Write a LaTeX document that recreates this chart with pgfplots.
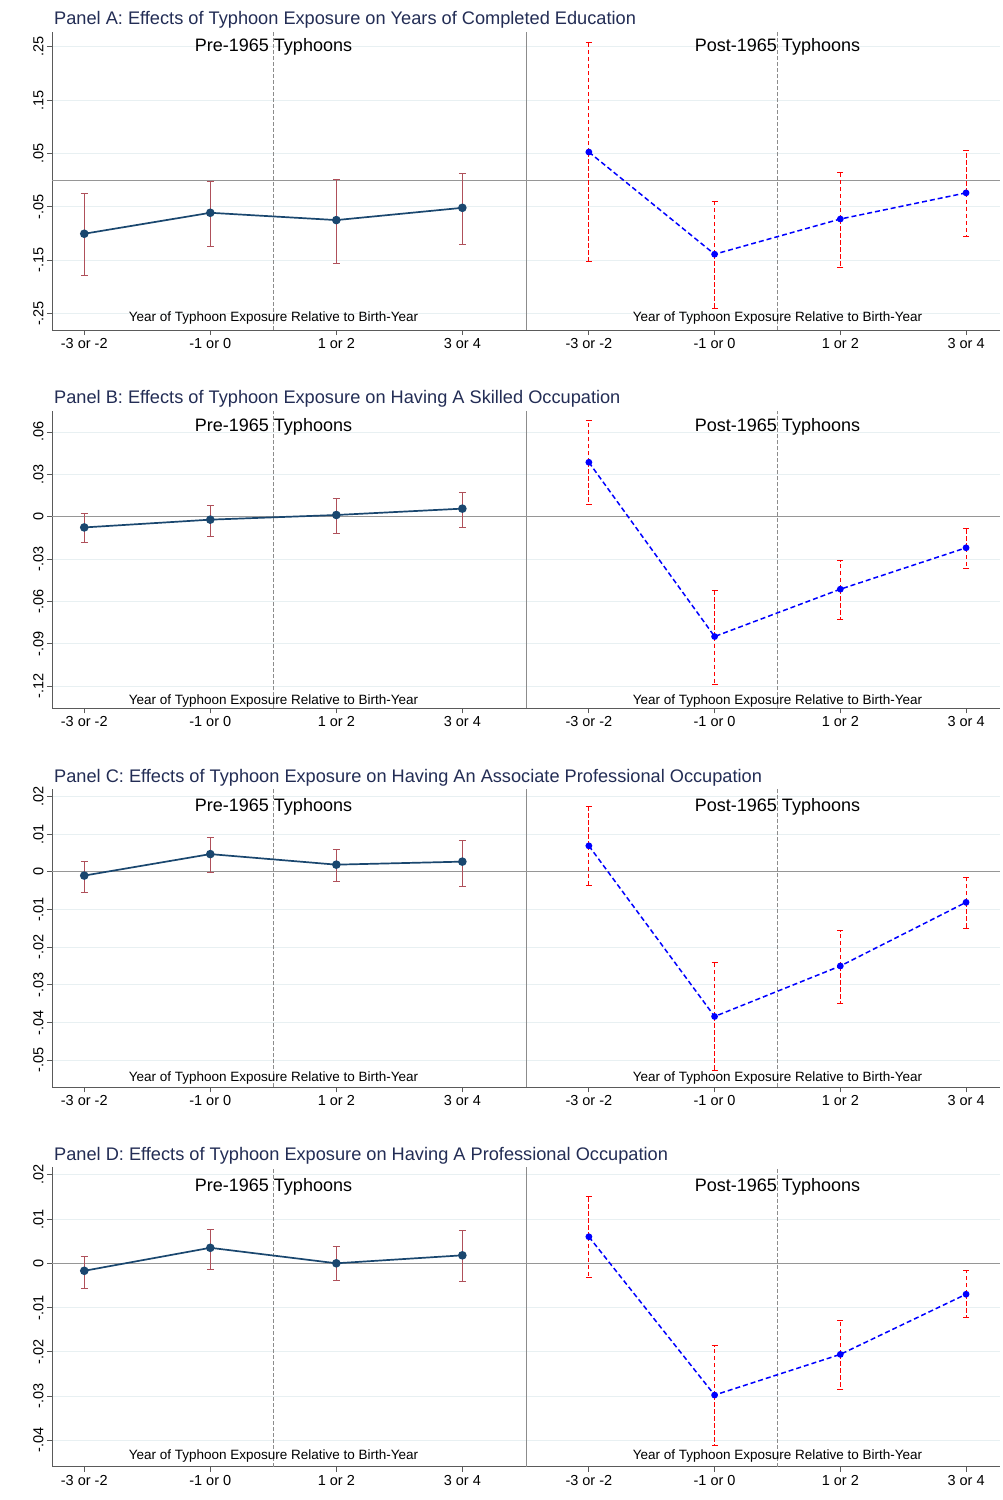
\documentclass[border=0pt]{standalone}
\usepackage{fontspec}
\setmainfont{Liberation Sans}
\usepackage{pgfplots}
\usepackage{pgfplotstable}
\pgfplotsset{compat=1.18}

\definecolor{navyline}{RGB}{26,71,111}
\definecolor{cierr}{RGB}{175,80,90}
\definecolor{gridc}{RGB}{232,240,242}
\definecolor{titlec}{RGB}{35,45,85}
\definecolor{spinec}{RGB}{90,90,90}
\definecolor{refgray}{RGB}{150,150,150}
\definecolor{dashgray}{RGB}{140,140,140}
\definecolor{spine2}{RGB}{140,140,140}

% x  y  lo  hi
\pgfplotstableread{
x y lo hi
1 -0.1006 -0.179 -0.025
2 -0.0613 -0.125 -0.002
3 -0.075 -0.156 0.001
4 -0.052 -0.121 0.012
}\Apre
\pgfplotstableread{
x y lo hi
1 0.0525 -0.152 0.257
2 -0.139 -0.241 -0.040
3 -0.073 -0.163 0.014
4 -0.024 -0.106 0.056
}\Apost
\pgfplotstableread{
x y lo hi
1 -0.0076 -0.0184 0.0021
2 -0.0021 -0.0142 0.0078
3 0.0012 -0.0116 0.0130
4 0.0057 -0.0076 0.0170
}\Bpre
\pgfplotstableread{
x y lo hi
1 0.0385 0.0085 0.068
2 -0.0848 -0.1186 -0.052
3 -0.0513 -0.0725 -0.0312
4 -0.022 -0.0364 -0.0087
}\Bpost
\pgfplotstableread{
x y lo hi
1 -0.0010 -0.0055 0.0027
2 0.0047 -0.0002 0.0091
3 0.0019 -0.0027 0.0060
4 0.0027 -0.0038 0.0083
}\Cpre
\pgfplotstableread{
x y lo hi
1 0.0069 -0.0036 0.0173
2 -0.0384 -0.0527 -0.0240
3 -0.0250 -0.0350 -0.0156
4 -0.0081 -0.0150 -0.0016
}\Cpost
\pgfplotstableread{
x y lo hi
1 -0.0017 -0.0057 0.0015
2 0.0035 -0.0015 0.0076
3 0.0000 -0.0039 0.0037
4 0.0018 -0.0042 0.0074
}\Dpre
\pgfplotstableread{
x y lo hi
1 0.0060 -0.0032 0.0151
2 -0.0298 -0.0411 -0.0187
3 -0.0206 -0.0286 -0.0129
4 -0.0070 -0.0122 -0.0017
}\Dpost

\pgfplotsset{
  panelbase/.style={
    scale only axis, width=474pt,
    axis x line*=bottom, axis y line*=left,
    axis line style={spinec, line width=0.9pt},
    xtick={1,2,3,4},
    xticklabels={-3 or -2,-1 or 0,1 or 2,3 or 4},
    scaled y ticks=false, scaled x ticks=false,
    tick align=outside, major tick length=5pt,
    tick style={spinec, line width=0.8pt},
    ymajorgrids, major grid style={gridc, line width=0.8pt},
    ticklabel style={font=\fontsize{14.5}{16}\selectfont, text=black},
    clip=false,
  },
}

% #1 bottom(px) #2 height #3 ymin #4 ymax #5 yticks #6 labels #7 pre #8 post
\newcommand{\panel}[8]{%
  \begin{axis}[panelbase, at={(52pt,-#1pt)}, anchor=south west, height=#2pt,
    xmin=0.744, xmax=4.505, ymin=#3, ymax=#4, ytick={#5}, yticklabels={#6},
    yticklabel style={rotate=90, anchor=south}]
    \draw[refgray, line width=0.8pt] (axis cs:0.744,0) -- (axis cs:4.505,0);
    \draw[dashgray, line width=0.8pt, dash pattern=on 4pt off 2pt] (axis cs:2.5,#3) -- (axis cs:2.5,#4);
    \addplot[only marks, mark=none,
      error bars/.cd, y dir=both, y explicit,
      error bar style={cierr, line width=1pt},
      error mark options={rotate=90, cierr, line width=1pt, mark size=3.5pt}]
      table[x=x, y=y, y error plus expr=\thisrow{hi}-\thisrow{y}, y error minus expr=\thisrow{y}-\thisrow{lo}] {#7};
    \addplot[navyline, line width=1.7pt, mark=*, mark size=3.4pt, mark options={fill=navyline, draw=navyline, solid}]
      table[x=x, y=y] {#7};
  \end{axis}
  \begin{axis}[panelbase, at={(526pt,-#1pt)}, anchor=south west, height=#2pt,
    xmin=0.5, xmax=4.27, ymin=#3, ymax=#4, ytick={#5}, yticklabels={},
    ytick style={draw=none}, y axis line style={spine2, line width=0.9pt}]
    \draw[refgray, line width=0.8pt] (axis cs:0.5,0) -- (axis cs:4.27,0);
    \draw[dashgray, line width=0.8pt, dash pattern=on 4pt off 2pt] (axis cs:2.5,#3) -- (axis cs:2.5,#4);
    \addplot[only marks, mark=none,
      error bars/.cd, y dir=both, y explicit,
      error bar style={red, line width=1pt, dash pattern=on 4.5pt off 2.5pt},
      error mark options={rotate=90, red, solid, line width=1pt, mark size=3pt}]
      table[x=x, y=y, y error plus expr=\thisrow{hi}-\thisrow{y}, y error minus expr=\thisrow{y}-\thisrow{lo}] {#8};
    \addplot[blue, line width=1.5pt, dash pattern=on 5pt off 3pt, mark=*, mark size=2.6pt, mark options={fill=blue, draw=blue, solid}]
      table[x=x, y=y] {#8};
  \end{axis}
}

\newcommand{\labels}[4]{% #1 title y, #2 title text, #3 subtitle y, #4 bottom text y
  \node[anchor=west, text=titlec, font=\fontsize{18.2}{20}\selectfont, inner sep=0pt] at (54pt,-#1pt) {#2};
  \node[font=\fontsize{18}{20}\selectfont, inner sep=0pt] at (273.5pt,-#3pt) {Pre-1965 Typhoons};
  \node[font=\fontsize{18}{20}\selectfont, inner sep=0pt] at (777.5pt,-#3pt) {Post-1965 Typhoons};
  \node[font=\fontsize{13.5}{15}\selectfont, inner sep=0pt] at (273.5pt,-#4pt) {Year of Typhoon Exposure Relative to Birth-Year};
  \node[font=\fontsize{13.5}{15}\selectfont, inner sep=0pt] at (777.5pt,-#4pt) {Year of Typhoon Exposure Relative to Birth-Year};
}

\begin{document}
\begin{tikzpicture}
\useasboundingbox (0,0) rectangle (1002pt,-1500pt);
\fill[white] (0,0) rectangle (1002pt,-1500pt);

\panel{330}{298}{-0.281}{0.2775}{-0.25,-0.15,-0.05,0.05,0.15,0.25}{-.25,-.15,-.05,.05,.15,.25}{\Apre}{\Apost}
\labels{19.5}{Panel A: Effects of Typhoon Exposure on Years of Completed Education}{47}{318.5}

\panel{708.3}{297.6}{-0.1356}{0.075}{-0.12,-0.09,-0.06,-0.03,0,0.03,0.06}{-.12,-.09,-.06,-.03,0,.03,.06}{\Bpre}{\Bpost}
\labels{398.5}{Panel B: Effects of Typhoon Exposure on Having A Skilled Occupation}{427}{701}

\panel{1087.3}{298}{-0.0572}{0.0219}{-0.05,-0.04,-0.03,-0.02,-0.01,0,0.01,0.02}{-.05,-.04,-.03,-.02,-.01,0,.01,.02}{\Cpre}{\Cpost}
\labels{777.5}{Panel C: Effects of Typhoon Exposure on Having An Associate Professional Occupation}{807}{1077.5}

\panel{1466.7}{299.4}{-0.046}{0.0217}{-0.04,-0.03,-0.02,-0.01,0,0.01,0.02}{-.04,-.03,-.02,-.01,0,.01,.02}{\Dpre}{\Dpost}
\labels{1155.5}{Panel D: Effects of Typhoon Exposure on Having A Professional Occupation}{1187}{1456}
\end{tikzpicture}
\end{document}
